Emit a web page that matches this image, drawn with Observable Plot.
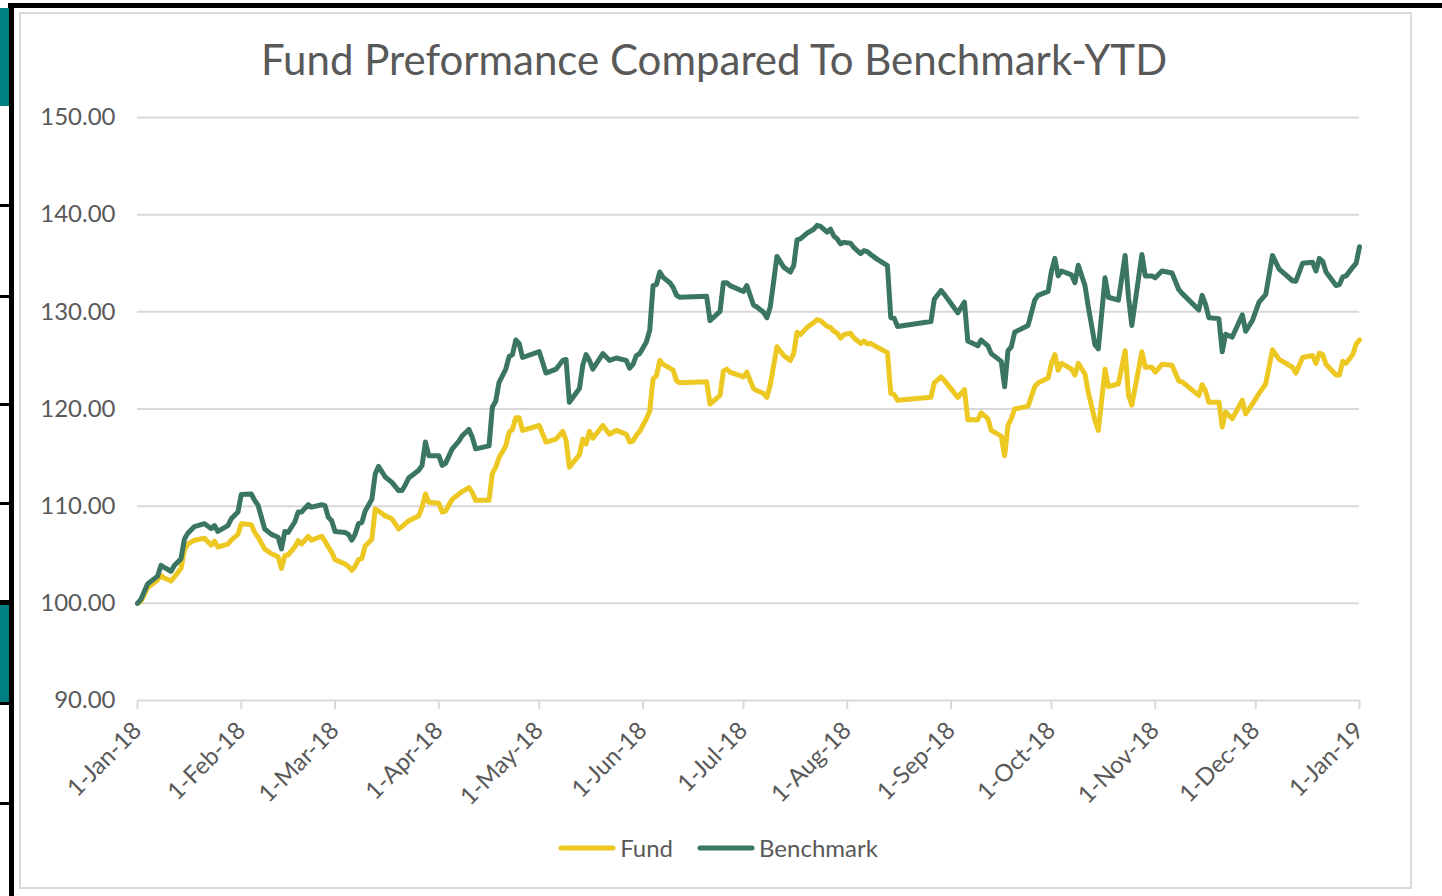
<!DOCTYPE html>
<html>
<head>
<meta charset="utf-8">
<script src="https://cdn.jsdelivr.net/npm/d3@7"></script>
<script src="https://cdn.jsdelivr.net/npm/@observablehq/plot@0.6"></script>
<style>
  html, body { margin: 0; padding: 0; background: #fff; }
  #page { position: relative; width: 1442px; height: 896px; overflow: hidden; background: #fff; font-family: Lato, "Open Sans", sans-serif; color: #595959; }
  .deco { position: absolute; }
  #frame { position: absolute; left: 19px; top: 12px; width: 1389px; height: 873px; border: 2px solid #d9d9d9; box-sizing: content-box; }
  #title { position: absolute; left: 0; width: 1428px; top: 38px; text-align: center; font-size: 42px; line-height: 1; color: #595959; white-space: nowrap; }
  #chart { position: absolute; left: 0; top: 100px; }
  #legend { position: absolute; top: 833px; left: 0; width: 1436px; display: flex; justify-content: center; align-items: center; font-size: 24px; color: #595959; }
  #legend .item { display: flex; align-items: center; margin: 0 12px; }
  #legend svg { margin-right: 4px; }
</style>
</head>
<body>
<div id="page">
  <div id="frame"></div>
  <!-- slide decorations on the left edge -->
  <div class="deco" style="left:8px;top:3px;width:1434px;height:5px;background:#000"></div>
  <div class="deco" style="left:9px;top:3px;width:5px;height:893px;background:#000"></div>
  <div class="deco" style="left:0;top:8px;width:9px;height:98px;background:#008080"></div>
  <div class="deco" style="left:0;top:204px;width:9px;height:3px;background:#000"></div>
  <div class="deco" style="left:0;top:295px;width:9px;height:3px;background:#000"></div>
  <div class="deco" style="left:0;top:403px;width:9px;height:3px;background:#000"></div>
  <div class="deco" style="left:0;top:502px;width:9px;height:3px;background:#000"></div>
  <div class="deco" style="left:0;top:600px;width:9px;height:5px;background:#000"></div>
  <div class="deco" style="left:0;top:605px;width:9px;height:98px;background:#008080"></div>
  <div class="deco" style="left:0;top:702px;width:9px;height:3px;background:#000"></div>
  <div class="deco" style="left:0;top:802px;width:9px;height:3px;background:#000"></div>
  <div id="title">Fund Preformance Compared To Benchmark-YTD</div>
  <div id="chart"></div>
  <div id="legend"></div>
</div>
<script>
// ---- data ----
const dates = [
"2018-01-01","2018-01-02","2018-01-04","2018-01-07","2018-01-08","2018-01-09","2018-01-11","2018-01-12","2018-01-14","2018-01-15",
"2018-01-16","2018-01-18","2018-01-21","2018-01-23","2018-01-24","2018-01-25","2018-01-28","2018-01-29","2018-01-31","2018-02-01",
"2018-02-04","2018-02-05","2018-02-06","2018-02-08","2018-02-10","2018-02-12","2018-02-13","2018-02-14","2018-02-15","2018-02-17",
"2018-02-18","2018-02-19","2018-02-21","2018-02-22","2018-02-25","2018-02-26","2018-02-27","2018-02-28","2018-03-01","2018-03-04",
"2018-03-05","2018-03-06","2018-03-07","2018-03-08","2018-03-09","2018-03-10","2018-03-12","2018-03-13","2018-03-14","2018-03-16",
"2018-03-18","2018-03-20","2018-03-21","2018-03-22","2018-03-23","2018-03-26","2018-03-27","2018-03-28","2018-03-29","2018-04-01",
"2018-04-02","2018-04-03","2018-04-05","2018-04-07","2018-04-08","2018-04-10","2018-04-11","2018-04-12","2018-04-14","2018-04-16",
"2018-04-17","2018-04-18","2018-04-19","2018-04-21","2018-04-22","2018-04-23","2018-04-24","2018-04-25","2018-04-26","2018-05-01",
"2018-05-03","2018-05-06","2018-05-08","2018-05-09","2018-05-10","2018-05-13","2018-05-14","2018-05-15","2018-05-16","2018-05-17",
"2018-05-20","2018-05-22","2018-05-24","2018-05-27","2018-05-28","2018-05-29","2018-05-30","2018-05-31","2018-06-02","2018-06-03",
"2018-06-04","2018-06-05","2018-06-06","2018-06-07","2018-06-09","2018-06-10","2018-06-11","2018-06-12","2018-06-20","2018-06-21",
"2018-06-24","2018-06-25","2018-06-26","2018-06-27","2018-07-01","2018-07-02","2018-07-04","2018-07-05","2018-07-07","2018-07-08",
"2018-07-09","2018-07-11","2018-07-13","2018-07-15","2018-07-16","2018-07-17","2018-07-18","2018-07-20","2018-07-22","2018-07-23",
"2018-07-24","2018-07-26","2018-07-27","2018-07-28","2018-07-29","2018-07-30","2018-07-31","2018-08-02","2018-08-03","2018-08-05",
"2018-08-06","2018-08-07","2018-08-08","2018-08-10","2018-08-13","2018-08-14","2018-08-15","2018-08-16","2018-08-26","2018-08-27",
"2018-08-29","2018-08-30","2018-09-03","2018-09-05","2018-09-06","2018-09-09","2018-09-10","2018-09-12","2018-09-13","2018-09-16",
"2018-09-17","2018-09-18","2018-09-19","2018-09-20","2018-09-24","2018-09-26","2018-09-27","2018-09-30","2018-10-01","2018-10-02",
"2018-10-03","2018-10-04","2018-10-07","2018-10-08","2018-10-09","2018-10-11","2018-10-12","2018-10-14","2018-10-15","2018-10-17",
"2018-10-18","2018-10-21","2018-10-23","2018-10-24","2018-10-25","2018-10-28","2018-10-29","2018-10-31","2018-11-01","2018-11-03",
"2018-11-06","2018-11-08","2018-11-09","2018-11-14","2018-11-15","2018-11-16","2018-11-17","2018-11-20","2018-11-21","2018-11-22",
"2018-11-24","2018-11-27","2018-11-28","2018-11-30","2018-12-02","2018-12-04","2018-12-06","2018-12-08","2018-12-12","2018-12-13",
"2018-12-15","2018-12-18","2018-12-19","2018-12-20","2018-12-21","2018-12-22","2018-12-25","2018-12-26","2018-12-27","2018-12-28",
"2018-12-30","2018-12-31","2019-01-01"
];
const benchmark = [
100.0,100.4,102.0,102.8,103.9,103.7,103.3,103.9,104.6,106.6,
107.2,107.9,108.2,107.7,108.0,107.4,108.0,108.7,109.4,111.2,
111.25,110.6,110.1,107.65,107.1,106.8,105.6,107.4,107.3,108.4,
109.4,109.4,110.15,109.9,110.15,110.05,108.85,108.5,107.4,107.3,
107.1,106.5,107.1,108.2,108.3,109.5,110.7,113.3,114.1,113.0,
112.45,111.6,111.6,112.2,112.9,113.7,114.2,116.6,115.2,115.2,
114.2,114.4,115.9,116.7,117.25,117.9,117.1,115.9,116.05,116.2,
120.2,120.8,122.75,124.1,125.4,125.6,127.1,126.75,125.3,125.9,
123.7,124.1,125.0,125.1,120.7,122.1,124.5,125.6,125.0,124.1,
125.7,125.0,125.25,125.0,124.2,124.6,125.5,125.7,126.9,128.1,
132.7,132.8,134.1,133.55,133.0,132.5,131.7,131.5,131.6,129.1,
130.05,133.0,133.0,132.7,132.1,132.7,130.7,130.5,129.95,129.4,
130.5,135.7,134.6,134.1,134.75,137.4,137.5,138.1,138.5,138.9,
138.8,138.2,138.5,137.8,137.5,137.0,137.15,137.05,136.6,136.0,
136.3,136.2,135.9,135.4,134.75,129.4,129.35,128.5,129.0,131.3,
132.2,131.8,129.9,131.0,127.0,126.5,127.1,126.5,125.7,124.9,
122.3,126.0,126.4,127.9,128.6,131.2,131.7,132.1,134.2,135.5,
133.7,134.2,133.8,133.0,134.8,132.7,130.5,126.6,126.2,133.5,
131.5,131.2,135.8,131.5,128.6,135.9,133.7,133.7,133.5,134.2,
134.0,132.3,131.9,130.2,131.7,130.8,129.4,129.3,125.9,127.7,
127.4,129.7,128.0,129.1,131.0,131.8,135.8,134.4,133.2,133.15,
135.0,135.1,134.2,135.5,135.2,134.1,132.7,132.8,133.6,133.7,
134.6,135.0,136.7
];
const fund = [
100.0,100.2,101.6,102.4,102.85,102.6,102.3,102.7,103.6,105.5,
106.1,106.5,106.7,106.0,106.4,105.8,106.1,106.5,107.1,108.2,
108.1,107.3,106.8,105.6,105.1,104.8,103.6,104.9,105.0,105.8,
106.45,106.1,106.9,106.5,106.9,106.4,105.8,105.25,104.5,104.05,
103.8,103.4,103.8,104.5,104.6,105.9,106.6,109.7,109.5,109.0,
108.7,107.65,107.9,108.2,108.5,109.0,109.9,111.25,110.4,110.3,
109.4,109.5,110.7,111.25,111.5,111.9,111.4,110.6,110.6,110.6,
113.4,114.0,115.0,116.2,117.6,117.9,119.1,119.1,117.8,118.3,
116.6,116.9,117.7,116.8,114.0,115.3,116.9,116.4,117.7,117.0,
118.3,117.4,117.8,117.4,116.6,116.7,117.3,117.7,119.0,119.8,
123.1,123.4,125.0,124.6,124.2,124.0,122.9,122.7,122.8,120.5,
121.4,123.9,124.1,123.8,123.3,123.8,122.1,121.9,121.6,121.2,
122.5,126.4,125.5,125.0,125.7,127.9,127.65,128.4,128.9,129.2,
129.1,128.5,128.4,128.0,127.8,127.3,127.65,127.8,127.3,126.75,
127.0,126.7,126.75,126.35,125.8,121.6,121.5,120.9,121.2,122.7,
123.3,122.95,121.2,122.0,118.9,118.9,119.6,119.0,117.8,117.2,
115.2,118.3,119.0,120.0,120.3,122.3,122.7,123.2,124.7,125.6,
124.0,124.7,124.1,123.5,124.7,123.6,121.7,118.8,117.8,124.1,
122.3,122.6,126.0,121.4,120.4,125.9,124.3,124.3,123.8,124.6,
124.5,122.9,122.8,121.4,122.5,121.85,120.7,120.7,118.15,119.7,
119.0,120.9,119.5,120.5,121.6,122.6,126.1,125.1,124.3,123.7,
125.3,125.5,124.7,125.75,125.6,124.6,123.5,123.5,124.9,124.7,
125.6,126.7,127.1
];
const seriesNames = ["Fund", "Benchmark"];
const seriesColors = ["#EDC823", "#3B7564"];
const yTicks = [90, 100, 110, 120, 130, 140, 150];
const xStart = "2018-01-01", xEnd = "2019-01-01";

// ---- build ----
const parse = d3.utcParse("%Y-%m-%d");
const rows = dates.map((d, i) => ({date: parse(d), fund: fund[i], bench: benchmark[i]}));
const monthTicks = d3.utcMonth.range(parse(xStart), d3.utcDay.offset(parse(xEnd), 1));
const fmt = d3.utcFormat("%-d-%b-%y");

const chart = Plot.plot({
  width: 1442,
  height: 720,
  marginLeft: 137,
  marginRight: 83,
  marginTop: 17,
  marginBottom: 120,
  style: {fontFamily: "Lato, 'Open Sans', sans-serif", fontSize: "24px", color: "#595959", background: "transparent", overflow: "visible"},
  x: {type: "utc", domain: [parse(xStart), parse(xEnd)]},
  y: {domain: [90, 150]},
  marks: [
    Plot.ruleY(yTicks, {stroke: "#d9d9d9", strokeWidth: 2}),
    Plot.axisY({ticks: yTicks, tickFormat: d => d.toFixed(2), tickSize: 0, tickPadding: 22, label: null, fill: "#595959", fontSize: 24}),
    Plot.axisX({ticks: monthTicks, tickFormat: fmt, tickRotate: -45, tickSize: 9, tickPadding: 17, label: null, stroke: "#d9d9d9", strokeWidth: 2, fill: "#595959", fontSize: 24}),
    Plot.lineY(rows, {x: "date", y: "fund", stroke: seriesColors[0], strokeWidth: 5, strokeLinejoin: "round", strokeLinecap: "round"}),
    Plot.lineY(rows, {x: "date", y: "bench", stroke: seriesColors[1], strokeWidth: 5, strokeLinejoin: "round", strokeLinecap: "round"})
  ]
});
document.getElementById("chart").appendChild(chart);

const legend = document.getElementById("legend");
seriesNames.forEach((name, i) => {
  const item = document.createElement("div");
  item.className = "item";
  item.innerHTML = `<svg width="58" height="10"><line x1="3" y1="5" x2="55" y2="5" stroke="${seriesColors[i]}" stroke-width="5" stroke-linecap="round"/></svg><span>${name}</span>`;
  legend.appendChild(item);
});
</script>
</body>
</html>
